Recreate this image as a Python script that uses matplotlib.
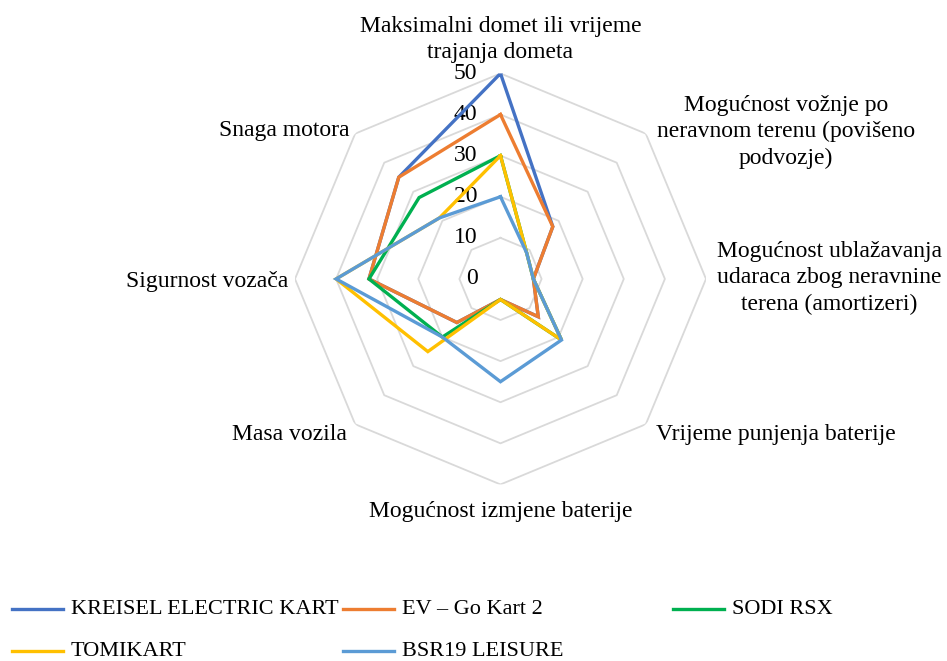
import numpy as np
import matplotlib
matplotlib.use('Agg')
import matplotlib.pyplot as plt
from matplotlib.lines import Line2D
from matplotlib.transforms import offset_copy

plt.rcParams['font.family'] = ['Liberation Serif', 'DejaVu Serif']

# kategorije (od vrha, u smjeru kazaljke)
categories = [
    "Maksimalni domet ili vrijeme\ntrajanja dometa",
    "Mogućnost vožnje po\nneravnom terenu (povišeno\npodvozje)",
    "Mogućnost ublažavanja\nudaraca zbog neravnine\nterena (amortizeri)",
    "Vrijeme punjenja baterije",
    "Mogućnost izmjene baterije",
    "Masa vozila",
    "Sigurnost vozača",
    "Snaga motora",
]

series_names = ["KREISEL ELECTRIC KART", "EV – Go Kart 2", "SODI RSX", "TOMIKART", "BSR19 LEISURE"]
kreisel = [50, 18, 8, 13, 5, 15, 32, 35]
ev_go = [40, 18, 8, 13, 5, 15, 32, 35]
sodi = [30, 9, 8, 21, 5, 20, 32, 28]
tomikart = [30, 9, 8, 21, 5, 25, 40, 21]
bsr19 = [20, 9, 8, 21, 25, 20, 40, 21]
colors = ['#4472C4', '#ED7D31', '#00B050', '#FFC000', '#5B9BD5']

ticks = [0, 10, 20, 30, 40, 50]

n = len(categories)
angles = np.linspace(0, 2 * np.pi, n, endpoint=False)
ang_closed = np.append(angles, angles[0])

fig = plt.figure(figsize=(9.47, 6.61), dpi=100)
ax = fig.add_axes([0.3115, 0.267, 0.434, 0.622], projection='polar')
ax.set_theta_offset(np.pi / 2)
ax.set_theta_direction(-1)
ax.set_ylim(0, 50)
ax.grid(False)
ax.spines['polar'].set_visible(False)
ax.set_xticks([])
ax.set_yticks([])
ax.patch.set_alpha(0)

# osmerokutna mreža
for t in ticks[1:]:
    ax.plot(ang_closed, [t] * (n + 1), color='#D9D9D9', lw=1.3, zorder=1)

# oznake osi
lab_tr = offset_copy(ax.transData, fig=fig, x=-23, y=0, units='dots')
for t in ticks:
    ax.text(0, t, str(t), transform=lab_tr, ha='right', va='center', fontsize=17)

all_series = [kreisel, ev_go, sodi, tomikart, bsr19]
for vals, c, name in zip(all_series, colors, series_names):
    ax.plot(ang_closed, vals + vals[:1], color=c, lw=2.4, label=name, zorder=3,
            solid_joinstyle='miter')

# nazivi kategorija: poravnanje i pomak (px) od vrha vanjskog prstena
lab_pos = [
    ('center', 'bottom', 0, 10),
    ('left', 'center', 11, 2),
    ('left', 'center', 11, 1),
    ('left', 'center', 10, -10),
    ('center', 'center', 0, -27),
    ('right', 'center', -8, -10),
    ('right', 'center', -7, -3),
    ('right', 'center', -6, 3),
]
for a, txt, (ha, va, dx, dy) in zip(angles, categories, lab_pos):
    tr = offset_copy(ax.transData, fig=fig, x=dx, y=dy, units='dots')
    ax.text(a, 50, txt, transform=tr, ha=ha, va=va, multialignment='center',
            fontsize=17, linespacing=1.33)

# legenda
W, H = 947, 661
leg_x = [12, 343, 673, 12, 343]
leg_y = [609, 609, 609, 651, 651]
for name, c, lx, ly in zip(series_names, colors, leg_x, leg_y):
    fig.add_artist(Line2D([lx / W, (lx + 51) / W], [1 - ly / H, 1 - ly / H],
                          color=c, lw=2.4, transform=fig.transFigure))
    fig.text((lx + 59) / W, 1 - ly / H, name, ha='left', va='center', fontsize=16)

fig.savefig('out.png', dpi=100)
